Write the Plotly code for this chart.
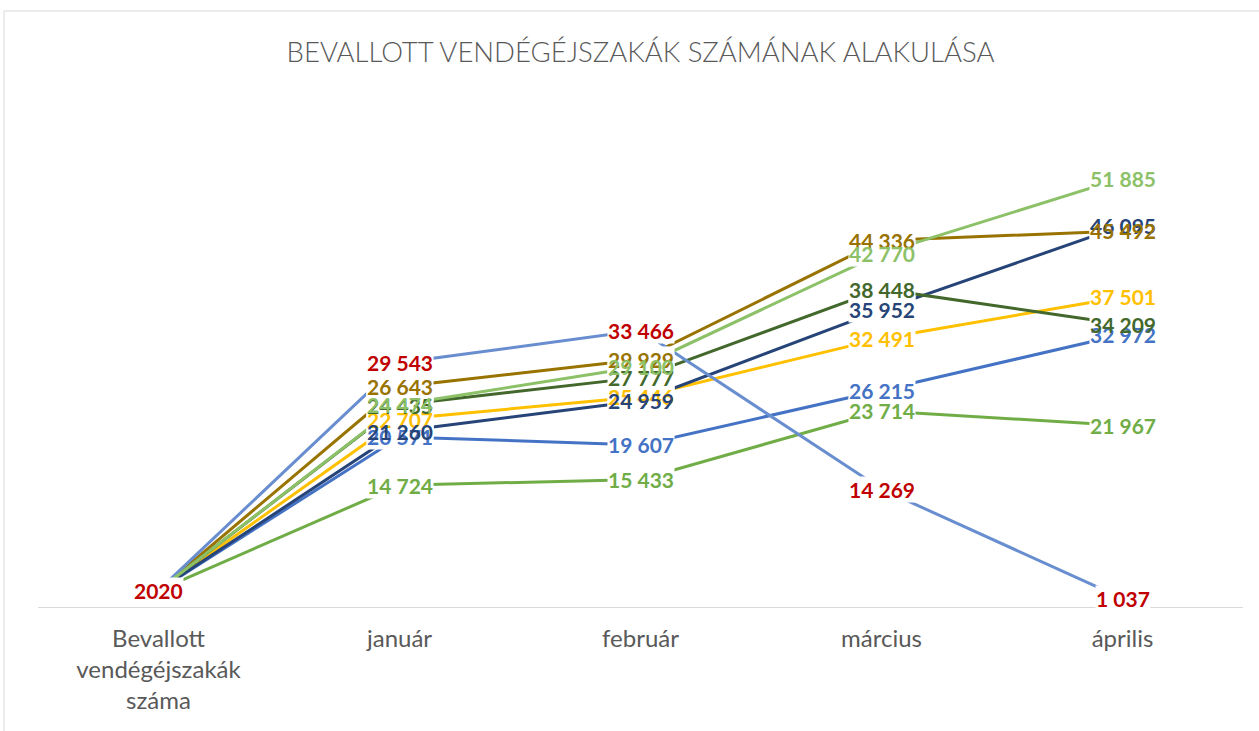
import plotly.graph_objects as go

categories = ["Bevallott<br>vendégéjszakák<br>száma", "január", "február", "március", "április"]

series_names = ["S1", "S2", "S3", "S4", "S5", "S6", "S7", "S8"]
blue = [2020, 20571, 19607, 26215, 32972]
yellow = [2020, 22707, 25446, 32491, 37501]
green = [2020, 14724, 15433, 23714, 21967]
navy = [2020, 21260, 24959, 35952, 46095]
brown = [2020, 26643, 29929, 44336, 45492]
dark_green = [2020, 24435, 27777, 38448, 34209]
light_blue = [2020, 29543, 33466, 14269, 1037]
light_green = [2020, 24474, 29100, 42770, 51885]

series_values = [blue, yellow, green, navy, brown, dark_green, light_blue, light_green]
line_colors = ["#4472C4", "#FFC000", "#70AD47", "#264478", "#997300", "#43682B", "#698ED0", "#8CC168"]
label_colors = ["#4472C4", "#FFC000", "#70AD47", "#264478", "#997300", "#43682B", "#C00000", "#8CC168"]
first_label = [False, False, False, False, False, False, True, False]


def fmt(i, v):
    if i == 0:
        return str(v)
    return f"{v:,}".replace(",", " ")


fig = go.Figure()
for name, vals, lc in zip(series_names, series_values, line_colors):
    fig.add_trace(go.Scatter(x=categories, y=vals, mode="lines", name=name,
                             line=dict(color=lc, width=3), showlegend=False,
                             hoverinfo="skip"))

label_font = dict(family="Lato", size=21, weight="bold")
annotations = []
# white boxes under labels (hide lines)
for vals, show_first in zip(series_values, first_label):
    for i, (c, v) in enumerate(zip(categories, vals)):
        if i == 0 and not show_first:
            continue
        annotations.append(dict(x=c, y=v, xref="x", yref="y", text=fmt(i, v), showarrow=False,
                                font=dict(color="white", **label_font), bgcolor="white",
                                borderpad=0))
# coloured label texts
for vals, lab_c, show_first in zip(series_values, label_colors, first_label):
    for i, (c, v) in enumerate(zip(categories, vals)):
        if i == 0 and not show_first:
            continue
        annotations.append(dict(x=c, y=v, xref="x", yref="y", text=fmt(i, v), showarrow=False,
                                font=dict(color=lab_c, **label_font), borderpad=0))

fig.update_layout(
    width=1259, height=731,
    margin=dict(l=38, r=16, t=111, b=124),
    paper_bgcolor="white", plot_bgcolor="white",
    title=dict(text="BEVALLOTT VENDÉGÉJSZAKÁK SZÁMÁNAK ALAKULÁSA",
               x=0.5, xref="paper", xanchor="center",
               y=1 - 52 / 731, yref="container", yanchor="middle",
               font=dict(family="Lato", size=27.5, color="#595959", weight=300)),
    xaxis=dict(type="category", range=[-0.5, 4.5], showgrid=False, zeroline=False,
               showline=True, linecolor="#D9D9D9", linewidth=1, ticks="",
               tickfont=dict(family="Lato", size=24, color="#595959"),
               ticklabelstandoff=10),
    yaxis=dict(range=[0, 60000], visible=False, showgrid=False, zeroline=False),
    annotations=annotations,
    shapes=[dict(type="rect", xref="paper", yref="paper",
                 x0=(4 - 38) / 1205, x1=(1270 - 38) / 1205,
                 y0=(607 - 740) / 496, y1=(607 - 11) / 496,
                 line=dict(color="#D9D9D9", width=1), fillcolor="rgba(0,0,0,0)",
                 layer="below")],
)

fig.write_html("out.html")
